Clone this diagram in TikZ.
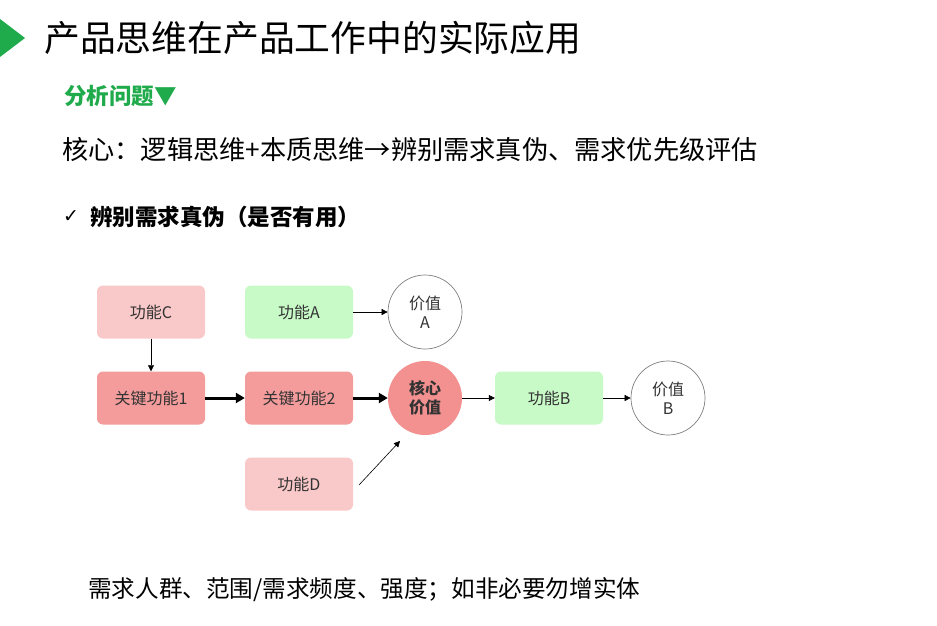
\documentclass[tikz,border=0pt]{standalone}
\usepackage{fontspec}
\usepackage{tikz}
\usetikzlibrary{arrows.meta}
\setmainfont{Noto Sans CJK SC}
\newfontfamily\symfont{DejaVu Sans}
\definecolor{hdgreen}{HTML}{1FAA4B}
\definecolor{palepink}{HTML}{F9C8C8}
\definecolor{keyred}{HTML}{F49C9C}
\definecolor{corered}{HTML}{F39090}
\definecolor{palegreen}{HTML}{C8FAC8}
\definecolor{boxtext}{HTML}{333333}

\begin{document}
\begin{tikzpicture}[x=1pt,y=-1pt,
    func/.style={rectangle,rounded corners=6pt,minimum width=108pt,minimum height=53pt,inner sep=0pt,text=boxtext,font=\fontsize{16}{18}\selectfont},
    value/.style={circle,minimum size=74pt,inner sep=0pt,align=center,text=boxtext,font=\fontsize{16}{19}\selectfont},
    thin/.style={-{Triangle[length=6pt,width=6pt]},line width=0.6pt},
    thick/.style={-{Triangle[length=9pt,width=10pt]},line width=3pt}]
      \useasboundingbox[fill=white] (0,0) rectangle (937,626);

      % heading
      \fill[hdgreen] (0,19) -- (25,38) -- (0,57) -- cycle;
      \node[anchor=west,inner sep=0pt,font=\fontsize{35.8}{40}\selectfont] (title) at (44,38) {产品思维在产品工作中的实际应用};
      \node[anchor=west,inner sep=0pt,text=hdgreen,font=\fontsize{22.5}{26}\selectfont\bfseries] (sub) at (64,96) {分析问题▼};
      \node[anchor=west,inner sep=0pt,font=\fontsize{26.2}{30}\selectfont] (core) at (62,150) {核心：逻辑思维+本质思维→辨别需求真伪、需求优先级评估};
      \node[anchor=west,inner sep=0pt,font=\fontsize{19}{22}\symfont] (tick) at (63,217) {✓};
      \node[anchor=west,inner sep=0pt,font=\fontsize{22.5}{26}\selectfont\bfseries] (check) at (90,217) {辨别需求真伪（是否有用）};

      \node[func,fill=palepink]  (fc) at (151,312) {功能C};
      \node[func,fill=palegreen] (fa) at (299,312) {功能A};
      \node[value,draw=gray,line width=0.7pt] (va) at (425,312) {价值\\A};
      \node[func,fill=keyred]    (k1) at (151,398) {关键功能1};
      \node[func,fill=keyred]    (k2) at (299,398) {关键功能2};
      \node[value,fill=corered,font=\fontsize{16}{19}\selectfont\bfseries] (cv) at (425,398) {核心\\价值};
      \node[func,fill=palegreen] (fb) at (549,398) {功能B};
      \node[value,draw=gray,line width=0.7pt] (vb) at (668,398) {价值\\B};
      \node[func,fill=palepink]  (fd) at (299,484) {功能D};

      \coordinate (dstart) at (359,485);
      \coordinate (dend) at (400,441);

      \draw[thin] (fc) -- (k1);
      \draw[thin] (fa) -- (va);
      \draw[thick] (k1) -- (k2);
      \draw[thick] (k2) -- (cv);
      \draw[thin] (cv) -- (fb);
      \draw[thin] (fb) -- (vb);
      \draw[thin] (dstart) -- (dend);

      \node[anchor=west,inner sep=0pt,font=\fontsize{23.6}{27}\selectfont] (note) at (88,590) {需求人群、范围/需求频度、强度；如非必要勿增实体};
    \end{tikzpicture}
\end{document}
